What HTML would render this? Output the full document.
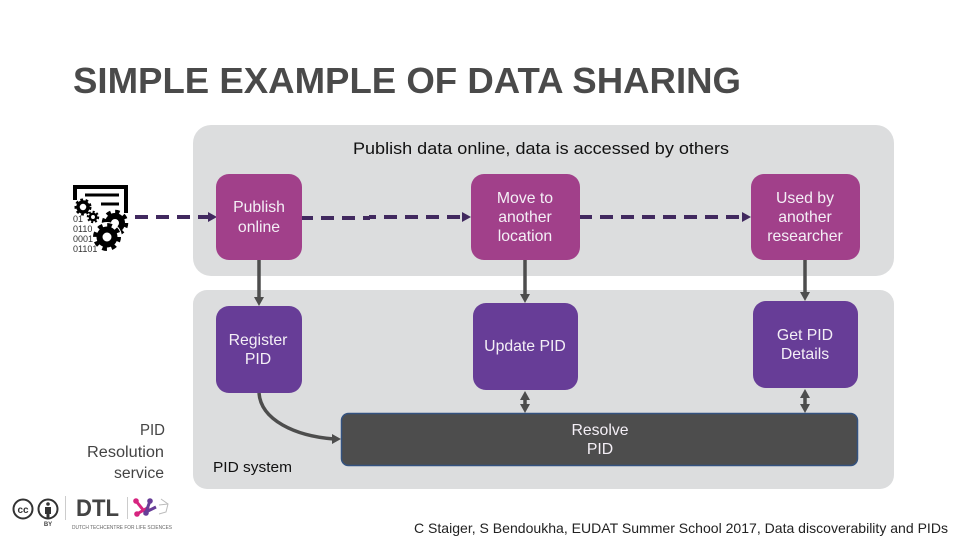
<!DOCTYPE html>
<html><head><meta charset="utf-8"><style>
html,body{margin:0;padding:0;background:#fff;width:960px;height:540px;overflow:hidden}
svg{display:block}
text{font-family:"Liberation Sans",sans-serif}
.w{fill:#f4eff6;font-size:15.8px;text-anchor:middle}
</style></head><body>
<svg width="960" height="540" viewBox="0 0 960 540" xmlns="http://www.w3.org/2000/svg">
<text x="73" y="93" font-size="36" font-weight="bold" fill="#4a4a4a" textLength="668" lengthAdjust="spacingAndGlyphs">SIMPLE EXAMPLE OF DATA SHARING</text>
<rect x="193" y="125" width="701" height="151" rx="18" fill="#dcddde"/>
<rect x="193" y="290" width="701" height="199" rx="14" fill="#dcddde"/>
<text x="353" y="154" fill="#111" style="font-size:17px" textLength="376" lengthAdjust="spacingAndGlyphs">Publish data online, data is accessed by others</text>

<!-- Icon -->
<g fill="none" stroke="#000">
<path d="M75 200V187H126V213" stroke-width="4"/>
<path d="M85 195H119M101 204H119" stroke-width="3"/>
<circle cx="83" cy="207" r="5" stroke-width="3.500"/><circle cx="83" cy="207" r="7.500" stroke-width="2" stroke-dasharray="2.800 2.600"/>
<circle cx="93" cy="217" r="3.200" stroke-width="2.500"/><circle cx="93" cy="217" r="5.200" stroke-width="2" stroke-dasharray="2 2"/>
<circle cx="115" cy="223" r="7" stroke-width="6"/><circle cx="115" cy="223" r="11.500" stroke-width="3.500" stroke-dasharray="4.500 4.500"/>
<circle cx="107" cy="237" r="15" fill="#fff" stroke="none"/>
<circle cx="107" cy="237" r="7.500" stroke-width="6"/><circle cx="107" cy="237" r="12" stroke-width="4" stroke-dasharray="4.700 4.700"/>
</g>
<g fill="#333"><text x="73" y="222" style="font-size:9px">01</text><text x="73" y="232" style="font-size:9px">0110</text><text x="73" y="242" style="font-size:9px">0001</text><text x="73" y="252" style="font-size:9px">01101</text></g>

<!-- Solid connectors -->
<g fill="none" stroke="#4d4d4d" stroke-width="3.500">
<path d="M259 260V298"/>
<path d="M525 260V295"/>
<path d="M805 260V293"/>
<path d="M525 395V408"/>
<path d="M805 393V408"/>
<path d="M259 393C261 420 295 436 334 439"/>
</g>
<g fill="#4d4d4d">
<path d="M254 297H264L259 306Z"/>
<path d="M520 294H530L525 303Z"/>
<path d="M800 292H810L805 301Z"/>
<path d="M520 400H530L525 391Z"/><path d="M520 404H530L525 413Z"/>
<path d="M800 398H810L805 389Z"/><path d="M800 404H810L805 413Z"/>
<path d="M332 434V444L341 439Z"/>
</g>

<!-- Dashed connectors -->
<g fill="#41295f">
<rect x="135" y="215" width="13" height="4"/><rect x="156" y="215" width="13" height="4"/><rect x="177" y="215" width="13" height="4"/><rect x="198" y="215" width="12" height="4"/>
<rect x="300" y="216" width="13" height="4"/><rect x="321" y="216" width="13" height="4"/><rect x="342" y="216" width="13" height="4"/><rect x="363" y="216" width="7" height="4"/>
<rect x="369" y="215" width="7" height="4"/><rect x="384" y="215" width="13" height="4"/><rect x="405" y="215" width="13" height="4"/><rect x="426" y="215" width="13" height="4"/><rect x="447" y="215" width="13" height="4"/>
<rect x="579" y="215" width="13" height="4"/><rect x="600" y="215" width="13" height="4"/><rect x="621" y="215" width="13" height="4"/><rect x="642" y="215" width="13" height="4"/><rect x="663" y="215" width="13" height="4"/><rect x="684" y="215" width="13" height="4"/><rect x="705" y="215" width="13" height="4"/><rect x="726" y="215" width="13" height="4"/>
<path d="M208 212V222L217 217Z"/>
<path d="M462 212V222L471 217Z"/>
<path d="M742 212V222L751 217Z"/>
</g>

<!-- Boxes -->
<rect x="216" y="174" width="86" height="86" rx="13" fill="#a1408a"/>
<rect x="471" y="174" width="109" height="86" rx="13" fill="#a1408a"/>
<rect x="751" y="174" width="109" height="86" rx="13" fill="#a1408a"/>
<rect x="216" y="306" width="86" height="87" rx="13" fill="#673d97"/>
<rect x="473" y="303" width="105" height="87" rx="13" fill="#673d97"/>
<rect x="753" y="301" width="105" height="87" rx="13" fill="#673d97"/>
<rect x="341.500" y="413.500" width="516" height="52" rx="7" fill="#4d4d4d" stroke="#34527f" stroke-width="1.500"/>

<text class="w" x="259" y="212">Publish</text><text class="w" x="259" y="232">online</text>
<text class="w" x="525" y="203">Move to</text><text class="w" x="525" y="222">another</text><text class="w" x="525" y="241">location</text>
<text class="w" x="805" y="203">Used by</text><text class="w" x="805" y="222">another</text><text class="w" x="805" y="241">researcher</text>
<text class="w" x="258" y="345">Register</text><text class="w" x="258" y="364">PID</text>
<text class="w" x="525" y="351">Update PID</text>
<text class="w" x="805" y="340">Get PID</text><text class="w" x="805" y="359">Details</text>
<text class="w" x="600" y="435">Resolve</text><text class="w" x="600" y="454">PID</text>

<g fill="#444">
<text x="140" y="435" style="font-size:15.500px" textLength="25" lengthAdjust="spacingAndGlyphs">PID</text>
<text x="87" y="457" style="font-size:15.500px" textLength="77" lengthAdjust="spacingAndGlyphs">Resolution</text>
<text x="114" y="478" style="font-size:15.500px" textLength="50" lengthAdjust="spacingAndGlyphs">service</text>
</g>
<text x="213" y="472" fill="#111" style="font-size:15px" textLength="79" lengthAdjust="spacingAndGlyphs">PID system</text>

<!-- Footer logos -->
<g fill="none" stroke="#333" stroke-width="2">
<circle cx="23" cy="509" r="9.500"/><circle cx="48" cy="509" r="9.500"/>
<path d="M65.500 496V520" stroke="#ccc" stroke-width="1"/>
<path d="M127.500 497V519" stroke="#ccc" stroke-width="1"/>
</g>
<text x="23" y="513" text-anchor="middle" fill="#333" font-weight="bold" style="font-size:10px">cc</text>
<circle cx="48" cy="504" r="1.800" fill="#333"/><path d="M45 507H51V514H49.500V519H46.500V514H45Z" fill="#333"/>
<text x="48" y="526" text-anchor="middle" fill="#444" font-weight="bold" style="font-size:6px">BY</text>
<text x="76" y="516" fill="#444" font-weight="bold" style="font-size:24px" textLength="43" lengthAdjust="spacingAndGlyphs">DTL</text>
<text x="72" y="529" fill="#666" style="font-size:5.500px" textLength="100" lengthAdjust="spacingAndGlyphs">DUTCH TECHCENTRE FOR LIFE SCIENCES</text>
<g stroke-width="3" fill="none"><path d="M136 501L144 511" stroke="#d6247f"/><path d="M137 514L149 507" stroke="#d6247f"/><path d="M150 501L146 512L156 507" stroke="#673d97"/></g>
<circle cx="136" cy="501" r="2.800" fill="#d6247f"/><circle cx="150" cy="501" r="2.800" fill="#673d97"/><circle cx="137" cy="514" r="2.800" fill="#d6247f"/><circle cx="146" cy="513" r="2.800" fill="#673d97"/>
<path d="M161 499L168 504L166 512L159 514M159 505L168 504" fill="none" stroke="#bbb"/>

<text x="414" y="533" fill="#222" style="font-size:14px" textLength="534" lengthAdjust="spacingAndGlyphs">C Staiger, S Bendoukha, EUDAT Summer School 2017, Data discoverability and PIDs</text>
</svg>
</body></html>
